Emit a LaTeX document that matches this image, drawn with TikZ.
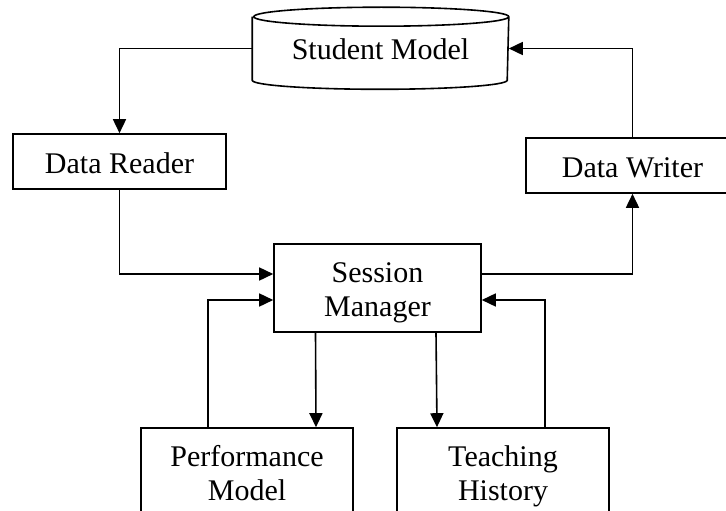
\documentclass[tikz,border=0pt]{standalone}
\usepackage{fontspec}
\setmainfont{Liberation Serif}
\usetikzlibrary{calc, arrows.meta}
% same height and depth on every line of a box
\newcommand{\ls}{\rule[-7pt]{0pt}{37pt}}
\newcommand{\boxfont}{\fontsize{30}{34.5}\selectfont\lineskiplimit-100pt\relax}

\begin{document}
\begin{tikzpicture}[x=1pt, y=-1pt, line width=1.6pt,
        >={Triangle[length=14pt,width=13pt]},
        box/.style={draw, align=center, minimum width=#1},
        box/.default=213pt,
        every node/.style={font=\boxfont}]
            \useasboundingbox (0,0) rectangle (726,511);
            \clip (0,0) rectangle (726,511);
            % store as a cylinder around the node
            \node[minimum width=255pt, minimum height=62pt] (stu) at (380.5,48.5) {\ls Student Model};
            \draw (stu.north west) -- (stu.south west)
                arc[start angle=180, end angle=360, x radius=127.5pt, y radius=9pt] -- (stu.north east)
                arc[start angle=0, end angle=360, x radius=127.5pt, y radius=9.5pt];
            \node[box, minimum height=55pt] (rdr) at (119.5,161.5) {\ls Data Reader};
            \node[box, minimum height=55pt] (wrt) at (632.5,165.5) {\ls Data Writer};
            \node[box=207pt, minimum height=88pt] (ses) at (377.5,288) {\ls Session\\\ls Manager};
            \node[box=212pt, minimum height=87.5pt] (prf) at (247,471.75) {\ls Performance\\\ls Model};
            \node[box=212pt, minimum height=87.5pt] (tch) at (503,471.75) {\ls Teaching\\\ls History};
            % reading and writing the model
            \draw[->] (stu.west) -| (rdr.north);
            \draw[->] (rdr.south) |- ([yshift=14pt]ses.west);
            \draw[->] ([yshift=14pt]ses.east) -| (wrt.south);
            \draw[->] (wrt.north) |- (stu.east);
            % the two sub-models
            \draw[->] ([xshift=-62pt]ses.south) -- ([xshift=69pt]prf.north);
            \draw[->] ([xshift=58.5pt]ses.south) -- ([xshift=-66pt]tch.north);
            \draw[->] ([xshift=-39pt]prf.north) |- ([yshift=-12pt]ses.west);
            \draw[->] ([xshift=42pt]tch.north) |- ([yshift=-12pt]ses.east);
        \end{tikzpicture}
\end{document}
